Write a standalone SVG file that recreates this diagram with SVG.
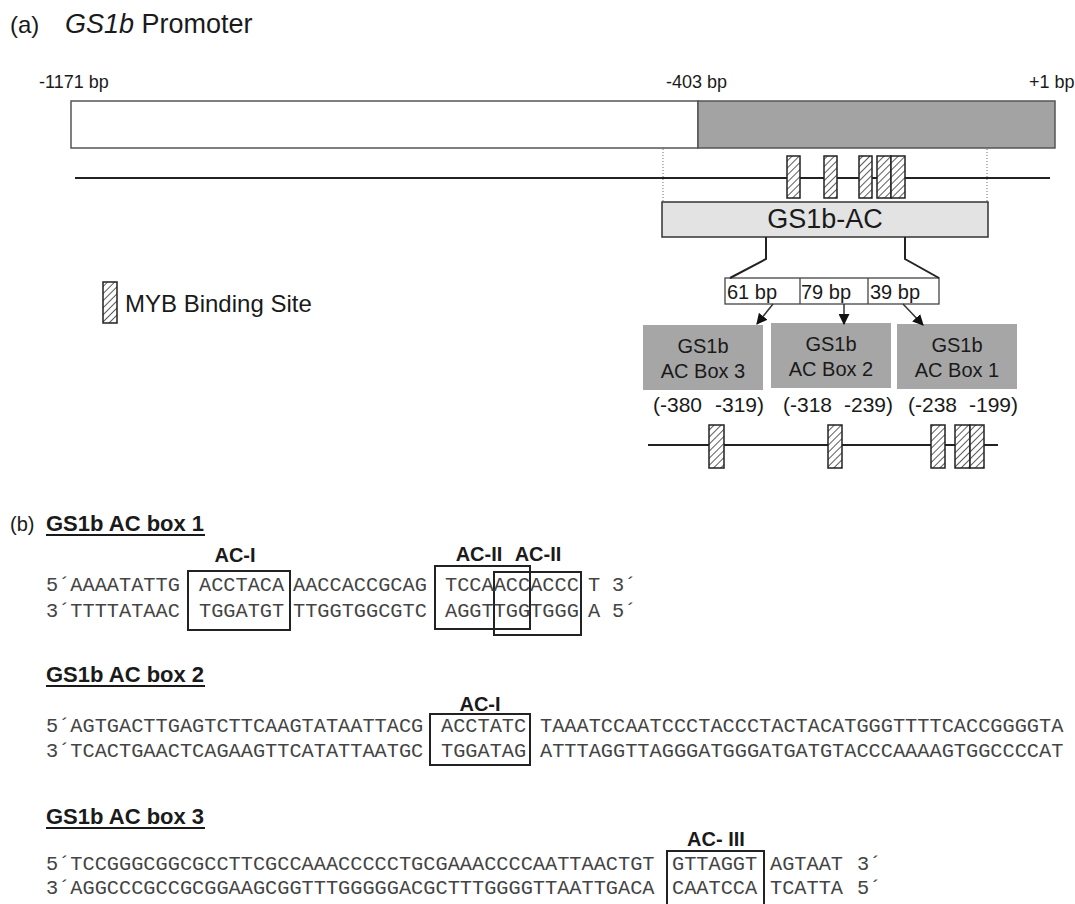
<svg xmlns="http://www.w3.org/2000/svg" width="1075" height="904" viewBox="0 0 1075 904">
<style>
.sans{font-family:"Liberation Sans",Arial,sans-serif;fill:#1a1a1a}
.lbl{font-size:18px}
.bold{font-weight:bold}
.seq{font-family:"Liberation Mono","Courier New",monospace;font-size:20.3px;fill:#444}
.box{fill:none;stroke:#222;stroke-width:2}
.hb{fill:url(#hatch);stroke:#222;stroke-width:1.5}
.ln{stroke:#222;stroke-width:2;fill:none}
.thin{stroke:#333;stroke-width:1.5;fill:none}
.dot{stroke:#888;stroke-width:1.2;stroke-dasharray:1 2;fill:none}
.gbox{fill:#a6a6a6}
</style>
<defs>
<pattern id="hatch" patternUnits="userSpaceOnUse" width="5" height="5" patternTransform="rotate(45)">
<rect width="5" height="5" fill="#fff"/>
<line x1="0" y1="0" x2="0" y2="5" stroke="#333" stroke-width="1.6"/>
</pattern>
<marker id="arr" viewBox="0 0 10 10" refX="9" refY="5" markerWidth="11" markerHeight="11" orient="auto" markerUnits="userSpaceOnUse">
<path d="M0,0 L10,5 L0,10 z" fill="#111"/>
</marker>
</defs>

<g id="title">
<text class="sans" x="10" y="33" font-size="24">(a)</text>
<text class="sans" x="65" y="33" font-size="27"><tspan font-style="italic">GS1b</tspan> Promoter</text>
</g>

<g id="promoter-bar">
<rect x="71" y="101" width="627" height="47" fill="#fff" stroke="#555" stroke-width="1.5"/>
<rect x="698" y="101" width="357" height="47" fill="#a3a3a3" stroke="#555" stroke-width="1.5"/>
<text class="sans lbl" x="39" y="88">-1171 bp</text>
<text class="sans lbl" x="666" y="88">-403 bp</text>
<text class="sans lbl" x="1029" y="88">+1 bp</text>
</g>

<g id="promoter-line">
<line class="ln" x1="75" y1="178" x2="1050" y2="178"/>
<rect class="hb" x="787" y="156" width="13" height="42"/>
<rect class="hb" x="824" y="156" width="13" height="42"/>
<rect class="hb" x="859" y="156" width="13" height="42"/>
<rect class="hb" x="877" y="156" width="14" height="42"/>
<rect class="hb" x="891" y="156" width="14" height="42"/>
</g>

<g id="legend">
<rect class="hb" x="103" y="282" width="14" height="41"/>
<text class="sans" x="125" y="312" font-size="24">MYB Binding Site</text>
</g>

<g id="gs1b-ac">
<rect x="662" y="202" width="326" height="35" fill="#e3e3e3" stroke="#333" stroke-width="1.5"/>
<text class="sans" x="825" y="228" font-size="27" text-anchor="middle">GS1b-AC</text>
</g>

<g id="segments">
<rect x="725" y="278" width="214" height="26" fill="#fff" stroke="#444" stroke-width="1.3"/>
<line x1="800" y1="278" x2="800" y2="304" stroke="#444" stroke-width="1.3"/>
<line x1="868" y1="278" x2="868" y2="304" stroke="#444" stroke-width="1.3"/>
<text class="sans" x="727" y="299" font-size="20">61 bp</text>
<text class="sans" x="801" y="299" font-size="20">79 bp</text>
<text class="sans" x="870" y="299" font-size="20">39 bp</text>
</g>

<g id="ac-box3">
<rect class="gbox" x="643" y="325" width="120" height="65"/>
<text class="sans" x="703" y="353" font-size="20" text-anchor="middle">GS1b</text>
<text class="sans" x="703" y="378" font-size="20" text-anchor="middle">AC Box 3</text>
<text class="sans" x="653" y="412" font-size="21">(-380</text>
<text class="sans" x="715" y="412" font-size="21">-319)</text>
</g>
<g id="ac-box2">
<rect class="gbox" x="771" y="323" width="120" height="65"/>
<text class="sans" x="831" y="351" font-size="20" text-anchor="middle">GS1b</text>
<text class="sans" x="831" y="376" font-size="20" text-anchor="middle">AC Box 2</text>
<text class="sans" x="783" y="412" font-size="21">(-318</text>
<text class="sans" x="844" y="412" font-size="21">-239)</text>
</g>
<g id="ac-box1">
<rect class="gbox" x="897" y="324" width="120" height="65"/>
<text class="sans" x="957" y="352" font-size="20" text-anchor="middle">GS1b</text>
<text class="sans" x="957" y="377" font-size="20" text-anchor="middle">AC Box 1</text>
<text class="sans" x="908" y="412" font-size="21">(-238</text>
<text class="sans" x="969" y="412" font-size="21">-199)</text>
</g>

<g id="ac-line">
<line class="ln" x1="648" y1="445" x2="998" y2="445"/>
<rect class="hb" x="709" y="425" width="15" height="43"/>
<rect class="hb" x="828" y="425" width="14" height="43"/>
<rect class="hb" x="931" y="425" width="14" height="43"/>
<rect class="hb" x="955" y="425" width="15" height="43"/>
<rect class="hb" x="970" y="425" width="14" height="43"/>
</g>

<g id="connectors">
<line class="dot" x1="663" y1="149" x2="663" y2="202"/>
<line class="dot" x1="987" y1="149" x2="987" y2="202"/>
<polyline class="ln" points="766,237 766,259 730,278"/>
<polyline class="ln" points="905,237 905,259 939,278"/>
<line class="thin" x1="773" y1="304" x2="757" y2="324" marker-end="url(#arr)"/>
<line class="thin" x1="844" y1="304" x2="844" y2="324" marker-end="url(#arr)"/>
<line class="thin" x1="903" y1="304" x2="923" y2="325" marker-end="url(#arr)"/>
</g>

<g id="part-b-box1">
<text class="sans" x="10" y="531" font-size="20">(b)</text>
<text class="sans bold" x="46" y="531" font-size="22">GS1b AC box 1</text>
<line x1="46" y1="535" x2="205" y2="535" stroke="#1a1a1a" stroke-width="2"/>
<text class="sans bold" x="235" y="562" font-size="20" text-anchor="middle">AC-I</text>
<text class="sans bold" x="479" y="561" font-size="20" text-anchor="middle">AC-II</text>
<text class="sans bold" x="538" y="561" font-size="20" text-anchor="middle">AC-II</text>
<rect class="box" x="188" y="571" width="102" height="59"/>
<rect class="box" x="435" y="566" width="95" height="63"/>
<rect class="box" x="494" y="572" width="87" height="63"/>
<text class="seq" x="46" y="591">5´AAAATATTG</text>
<text class="seq" x="199" y="591">ACCTACA</text>
<text class="seq" x="293" y="591">AACCACCGCAG</text>
<text class="seq" x="445" y="591">TCCAACCACCC</text>
<text class="seq" x="588" y="591">T</text>
<text class="seq" x="612" y="591">3´</text>
<text class="seq" x="46" y="617">3´TTTTATAAC</text>
<text class="seq" x="199" y="617">TGGATGT</text>
<text class="seq" x="293" y="617">TTGGTGGCGTC</text>
<text class="seq" x="445" y="617">AGGTTGGTGGG</text>
<text class="seq" x="588" y="617">A</text>
<text class="seq" x="612" y="617">5´</text>
</g>

<g id="part-b-box2">
<text class="sans bold" x="46" y="682" font-size="22">GS1b AC box 2</text>
<line x1="46" y1="686" x2="205" y2="686" stroke="#1a1a1a" stroke-width="2"/>
<text class="sans bold" x="480" y="711" font-size="20" text-anchor="middle">AC-I</text>
<rect class="box" x="430" y="714" width="100" height="51"/>
<text class="seq" x="46" y="732">5´AGTGACTTGAGTCTTCAAGTATAATTACG</text>
<text class="seq" x="441" y="732">ACCTATC</text>
<text class="seq" x="540" y="732">TAAATCCAATCCCTACCCTACTACATGGGTTTTCACCGGGGTA</text>
<text class="seq" x="46" y="757">3´TCACTGAACTCAGAAGTTCATATTAATGC</text>
<text class="seq" x="441" y="757">TGGATAG</text>
<text class="seq" x="540" y="757">ATTTAGGTTAGGGATGGGATGATGTACCCAAAAGTGGCCCCAT</text>
</g>

<g id="part-b-box3">
<text class="sans bold" x="46" y="824" font-size="22">GS1b AC box 3</text>
<line x1="46" y1="828" x2="205" y2="828" stroke="#1a1a1a" stroke-width="2"/>
<text class="sans bold" x="716" y="846" font-size="20" text-anchor="middle">AC- III</text>
<rect class="box" x="667" y="851" width="97" height="58"/>
<text class="seq" x="46" y="870">5´TCCGGGCGGCGCCTTCGCCAAACCCCCTGCGAAACCCCAATTAACTGT</text>
<text class="seq" x="672" y="870">GTTAGGT</text>
<text class="seq" x="770" y="870">AGTAAT</text>
<text class="seq" x="857" y="870">3´</text>
<text class="seq" x="46" y="894">3´AGGCCCGCCGCGGAAGCGGTTTGGGGGACGCTTTGGGGTTAATTGACA</text>
<text class="seq" x="672" y="894">CAATCCA</text>
<text class="seq" x="770" y="894">TCATTA</text>
<text class="seq" x="857" y="894">5´</text>
</g>
</svg>
